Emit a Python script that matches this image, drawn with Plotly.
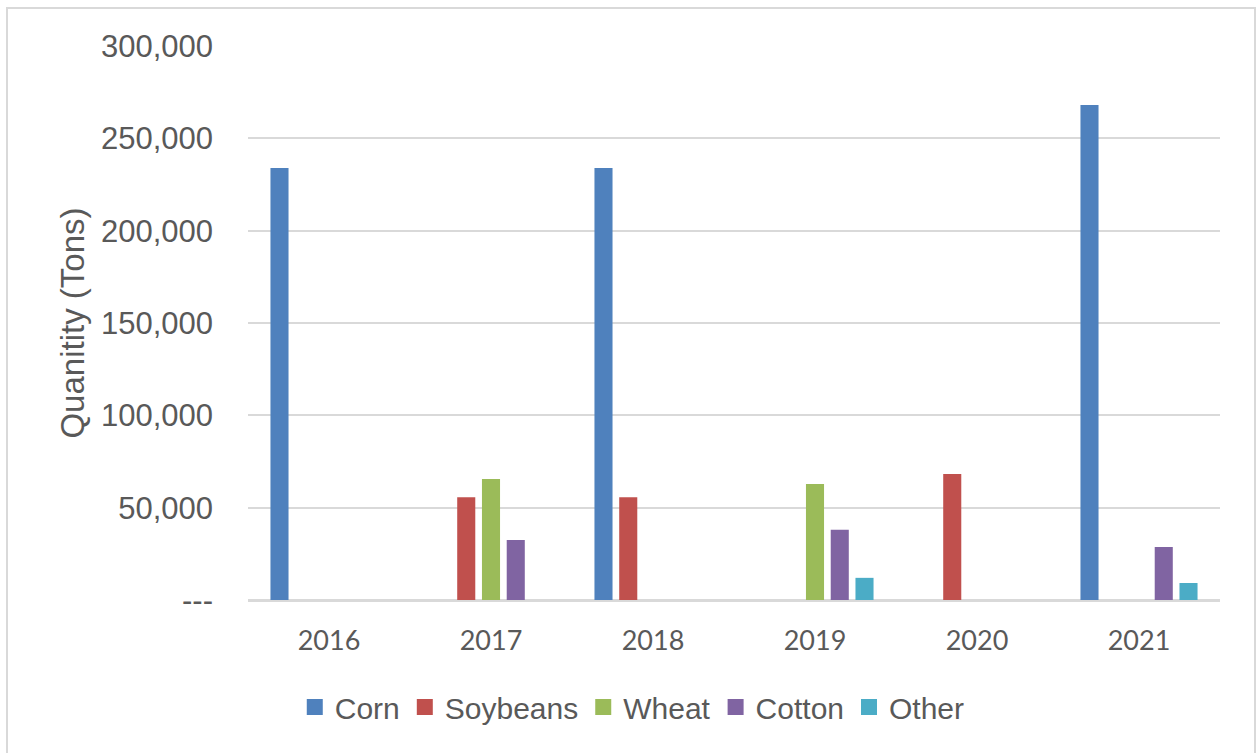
import plotly.graph_objects as go

years = ["2016", "2017", "2018", "2019", "2020", "2021"]
corn = [234000, None, 234000, None, None, 268000]
soybeans = [None, 55700, 55700, None, 68200, None]
wheat = [None, 65500, None, 62800, None, None]
cotton = [None, 32500, None, 38000, None, 28700]
other = [None, None, None, 12000, None, 9200]

series = [
    ("Corn", corn, "#4f81bd"),
    ("Soybeans", soybeans, "#c0504d"),
    ("Wheat", wheat, "#9bbb59"),
    ("Cotton", cotton, "#8064a2"),
    ("Other", other, "#4bacc6"),
]

y_ticks = [0, 50000, 100000, 150000, 200000, 250000, 300000]
y_ticktext = ["---", "50,000", "100,000", "150,000", "200,000", "250,000", "300,000"]

fig = go.Figure()
for name, vals, color in series:
    fig.add_trace(go.Bar(name=name, x=years, y=vals, showlegend=False, legendgroup=name,
                         marker=dict(color=color, line=dict(width=0))))
# legend entries with larger square swatches
for name, vals, color in series:
    fig.add_trace(go.Scatter(name=name, x=[None], y=[None], mode="markers", legendgroup=name,
                             marker=dict(symbol="square", size=16, color=color), showlegend=True))

W, H = 1257, 753
ml, mr, mt, mb = 248, 37, 46, 153
pw, ph = W - ml - mr, H - mt - mb

def px_x(p):
    return (p - ml) / pw

def px_y(p):
    return (H - mb - p) / ph

fig.update_layout(
    width=W, height=H,
    margin=dict(l=ml, r=mr, t=mt, b=mb, autoexpand=False),
    paper_bgcolor="white", plot_bgcolor="white",
    barmode="group", bargap=0.236, bargroupgap=0.27,
    font=dict(family="Liberation Sans, Arial, sans-serif", color="#595959", size=30),
    legend=dict(orientation="h", xref="container", x=0.503, xanchor="center",
                yref="container", y=0.061, yanchor="middle", itemsizing="trace",
                font=dict(size=30, color="#595959"), itemwidth=30, traceorder="normal"),
    xaxis=dict(showgrid=False, showline=True, linecolor="#d9d9d9", linewidth=2,
               ticks="", tickfont=dict(family="Lato, sans-serif", size=27, color="#595959"),
               ticklabelstandoff=16),
    yaxis=dict(range=[0, 300000], tickvals=y_ticks, ticktext=y_ticktext,
               showgrid=True, gridcolor="#d9d9d9", gridwidth=2,
               zeroline=True, zerolinecolor="#d9d9d9", zerolinewidth=2,
               ticks="", ticklabelstandoff=34,
               tickfont=dict(size=31, color="#595959"),
               title=dict(text="Quanitity (Tons)", standoff=6,
                          font=dict(size=33, color="#595959"))),
    shapes=[dict(type="rect", xref="paper", yref="paper",
                 x0=px_x(7), x1=px_x(1255), y0=px_y(770), y1=px_y(8),
                 line=dict(color="#d9d9d9", width=2), layer="below")],
)

fig.write_html("out.html")
